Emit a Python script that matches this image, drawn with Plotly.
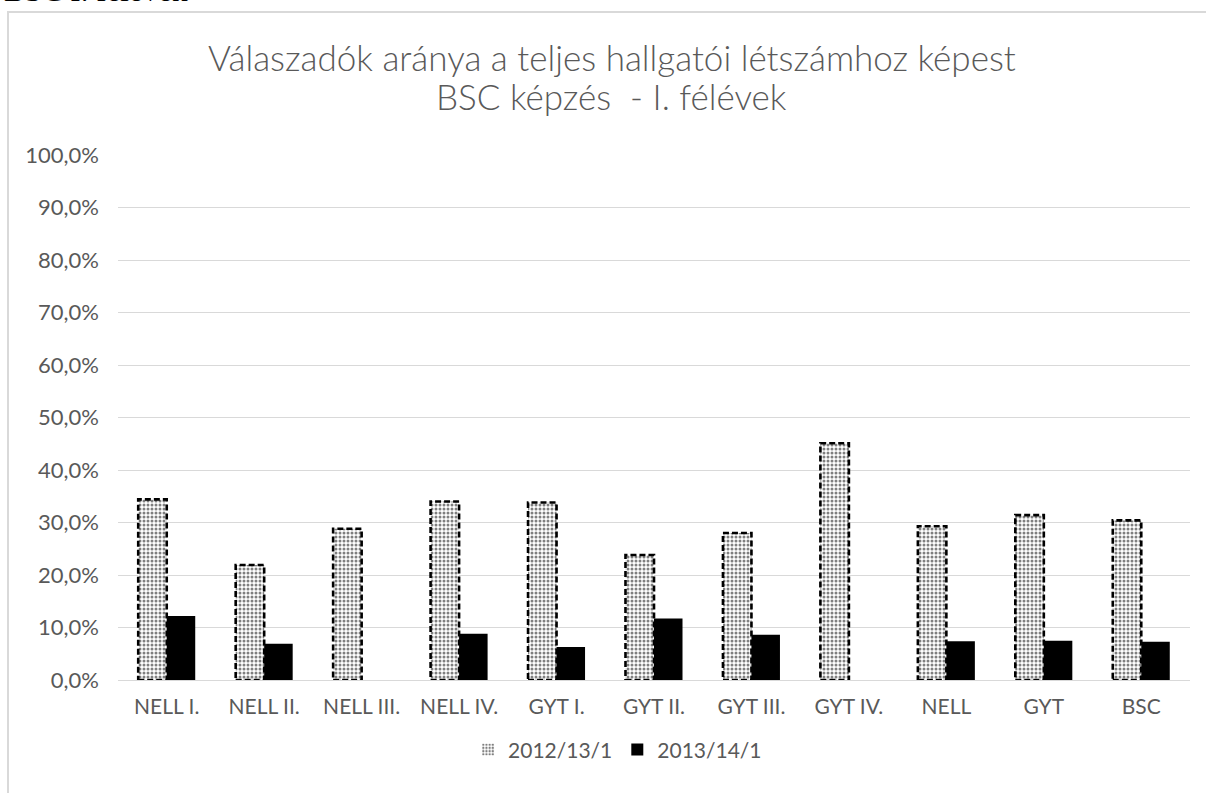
import plotly.graph_objects as go

categories = ["NELL I.", "NELL II.", "NELL III.", "NELL IV.", "GYT I.", "GYT II.",
              "GYT III.", "GYT IV.", "NELL", "GYT", "BSC"]
series_names = ["2012/13/1", "2013/14/1"]
values_2012 = [0.344, 0.219, 0.288, 0.340, 0.338, 0.238, 0.280, 0.451, 0.293, 0.314, 0.304]
values_2013 = [0.122, 0.069, 0.0, 0.088, 0.063, 0.117, 0.086, 0.0, 0.074, 0.075, 0.073]
title_lines = ["Válaszadók aránya a teljes hallgatói létszámhoz képest",
               "BSC képzés  - I. félévek"]

GRAY = "#595959"
FONT = "Lato"
BARW = 0.2925

fig = go.Figure()
fig.add_trace(go.Bar(
    x=categories, y=values_2012, name=series_names[0],
    marker=dict(color="white",
                pattern=dict(shape=".", fgcolor="black", bgcolor="white",
                             size=4, solidity=0.45),
                line=dict(width=0)),
))
fig.add_trace(go.Bar(
    x=categories, y=values_2013, name=series_names[1],
    marker=dict(color="black", line=dict(width=0)),
))

# dashed outlines of the patterned bars (derived from data on the category scale)
shapes = []
for i, v in enumerate(values_2012):
    shapes.append(dict(type="rect", xref="x", yref="y",
                       x0=i - BARW, x1=i, y0=0, y1=v,
                       line=dict(color="black", width=2.6, dash="6px,3px"),
                       fillcolor="rgba(0,0,0,0)", layer="above"))
# chart frame
shapes.append(dict(type="rect", xref="paper", yref="paper",
                   x0=-0.1026, x1=1.05, y0=-0.3, y1=1.2724,
                   line=dict(color="#d9d9d9", width=2), fillcolor="rgba(0,0,0,0)",
                   layer="below"))

annotations = [
    dict(text=title_lines[0], xref="paper", yref="paper", x=0.4608, xanchor="center",
         y=(680 - 57) / 525, yanchor="middle", showarrow=False,
         font=dict(family=FONT, size=35, color=GRAY, weight=300)),
    dict(text=title_lines[1], xref="paper", yref="paper", x=0.4608, xanchor="center",
         y=(680 - 96) / 525, yanchor="middle", showarrow=False,
         font=dict(family=FONT, size=35, color=GRAY, weight=300)),
    dict(text="BSC I. félévek", xref="paper", yref="paper",
         x=(2 - 118) / 1072, xanchor="left",
         y=(680 - 10) / 525, yanchor="bottom", showarrow=False,
         font=dict(family="Liberation Serif", size=31, color="black")),
]

fig.update_layout(
    width=1206, height=793,
    margin=dict(l=118, r=16, t=155, b=113),
    paper_bgcolor="white", plot_bgcolor="white",
    separators=", ",
    barmode="group", bargap=0.415, bargroupgap=0,
    font=dict(family=FONT, color=GRAY),
    xaxis=dict(showgrid=False, showline=False, zeroline=False, ticks="",
               tickfont=dict(family=FONT, size=21, color=GRAY),
               ticklabelstandoff=12),
    yaxis=dict(range=[0, 1], dtick=0.1, tickformat=".1%",
               showgrid=True, gridcolor="#d9d9d9", gridwidth=1.3,
               zeroline=True, zerolinecolor="#d9d9d9", zerolinewidth=1.3,
               showline=False, ticks="",
               tickfont=dict(family=FONT, size=22, color=GRAY),
               ticklabelstandoff=18),
    legend=dict(orientation="h", x=0.466, xanchor="center", y=-0.133, yanchor="middle",
                font=dict(family=FONT, size=21, color=GRAY), itemwidth=30,
                traceorder="normal"),
    shapes=shapes,
    annotations=annotations,
)

fig.write_html("out.html", config={"displayModeBar": False},
               post_script="document.body.style.margin='0';document.body.style.padding='0';")
